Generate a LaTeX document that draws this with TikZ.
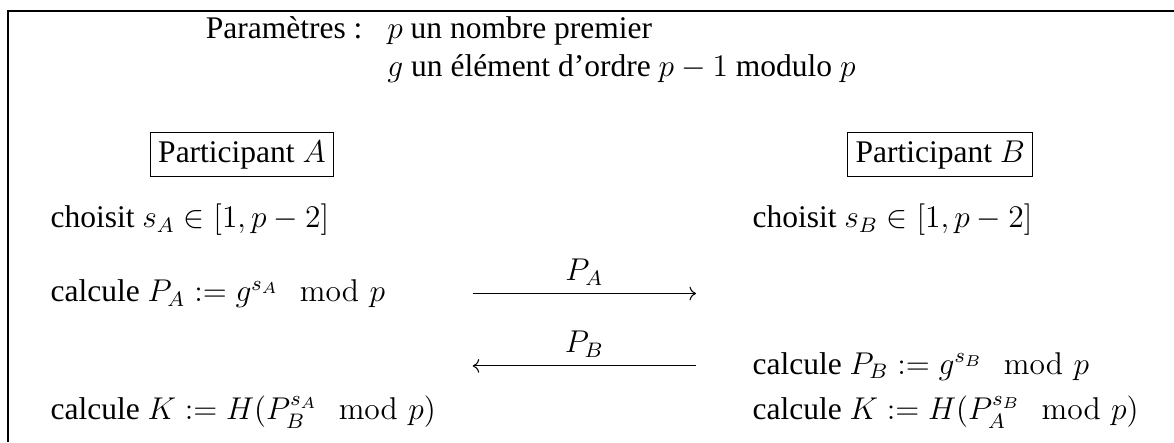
\documentclass[tikz,border=0pt]{standalone}
\usepackage{amsmath}
\usepackage[no-math]{fontspec}
\setmainfont{Liberation Serif}
\usetikzlibrary{arrows.meta,positioning}

\begin{document}
\begin{tikzpicture}[
    font=\fontsize{12}{14.4}\selectfont,
    txt/.style={inner sep=0pt, anchor=base west},
    partbox/.style={rectangle, draw, line width=0.4pt, inner sep=3pt},
    msg/.style={line width=0.4pt},
    frameline/.style={line width=0.5pt}
]
\useasboundingbox (0,0) rectangle (15.72,-5.92);

% cadre (coupe en bas et a droite)
\coordinate (corner)  at (0.107,-0.147);
\coordinate (frameBL) at (0.107,-5.92);
\coordinate (frameTR) at (15.72,-0.147);
\draw[frameline] (frameBL) -- (corner) -- (frameTR);

% parametres
\node[txt, anchor=base east] (param) at (4.86,-0.522) {Paramètres~:};
\node[txt] (hyp1) at (5.18,-0.522) {$p$ un nombre premier};
\node[txt] (hyp2) at (5.18,-1.018) {$g$ un élément d'ordre $p-1$ modulo $p$};

% participants
\node[partbox] (partA) at (3.24,-2.075) {Participant $A$};
\node[partbox] (partB) at (12.59,-2.075) {Participant $B$};

\node[txt] (choixA) at (0.67,-3.05)  {choisit $s_A\in[1,p-2]$};
\node[txt] (choixB) at (10.07,-3.05) {choisit $s_B\in[1,p-2]$};
\node[txt] (calcA)  at (0.67,-4.04)  {calcule $P_A:=g^{s_A}\mod{p}$};
\node[txt] (calcB)  at (10.07,-5.01) {calcule $P_B:=g^{s_B}\mod{p}$};
\node[txt] (cleA)   at (0.67,-5.62)  {calcule $K:=H(P_B^{s_A}\mod{p})$};
\node[txt] (cleB)   at (10.07,-5.62) {calcule $K:=H(P_A^{s_B}\mod{p})$};

% messages
\coordinate (msgA1) at (6.33,-3.93);
\coordinate (msgA2) at (9.32,-3.93);
\coordinate (msgB1) at (6.33,-4.90);
\coordinate (msgB2) at (9.32,-4.90);
\draw[msg, -To] (msgA1) -- node[above, inner sep=3pt] (lblA) {$P_A$} (msgA2);
\draw[msg, To-] (msgB1) -- node[above, inner sep=3pt] (lblB) {$P_B$} (msgB2);

\end{tikzpicture}
\end{document}
